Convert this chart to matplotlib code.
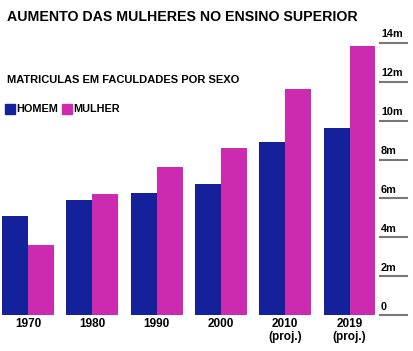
import matplotlib.pyplot as plt
import numpy as np

plt.rcParams['font.family'] = ['Liberation Sans', 'DejaVu Sans']
plt.rcParams['font.weight'] = 'bold'

anos = ['1970', '1980', '1990', '2000', '2010\n(proj.)', '2019\n(proj.)']
homem = [5.1, 5.9, 6.3, 6.75, 8.9, 9.6]
mulher = [3.6, 6.25, 7.6, 8.6, 11.65, 13.85]
yticks = [0, 2, 4, 6, 8, 10, 12, 14]
ylabels = ['0', '2m', '4m', '6m', '8m', '10m', '12m', '14m']

azul = '#15209b'
rosa = '#cc2aaf'

fig = plt.figure(figsize=(4.14, 3.51), dpi=100)
ax = fig.add_axes([0, 0.1026, 1, 0.775])

x = np.arange(len(anos))
w = 0.404
ax.bar(x - w/2, homem, w, color=azul, linewidth=0)
ax.bar(x + w/2, mulher, w, color=rosa, linewidth=0)

ax.set_xlim(-0.435, 6.003)
ax.set_ylim(0, 14)

# escala a direita: traco curto + rotulo em cima
tr = ax.get_yaxis_transform()
for v, lab in zip(yticks, ylabels):
    ax.plot([0.918, 0.983], [v, v], color='#777777', lw=1.5, transform=tr, clip_on=False)
    ax.annotate(lab, (0.92, v), xycoords=tr, xytext=(0, 2.5), textcoords='offset points',
                ha='left', va='bottom', fontsize=7.8, fontweight='bold')

ax.set_xticks(x)
ax.set_xticklabels(anos, fontsize=8.5, fontweight='bold', linespacing=1.1)
ax.tick_params(axis='x', length=0, pad=2.5)
ax.set_yticks([])
for s in ax.spines.values():
    s.set_visible(False)

fig.text(0.017, 0.94, 'AUMENTO DAS MULHERES NO ENSINO SUPERIOR', fontsize=10.2,
         fontweight='bold', va='baseline')
fig.text(0.017, 0.771, 'MATRICULAS EM FACULDADES POR SEXO', fontsize=8,
         fontweight='bold', va='center')

# legenda
fig.patches.append(plt.Rectangle((5/414, 1 - 114/351), 10/414, 10/351,
                                 transform=fig.transFigure, color=azul))
fig.text(16/414, 1 - 109/351, 'HOMEM', fontsize=7.8, fontweight='bold', va='center')
fig.patches.append(plt.Rectangle((62/414, 1 - 114/351), 10/414, 10/351,
                                 transform=fig.transFigure, color=rosa))
fig.text(73/414, 1 - 109/351, 'MULHER', fontsize=7.8, fontweight='bold', va='center')

fig.savefig('out.png', dpi=100)
